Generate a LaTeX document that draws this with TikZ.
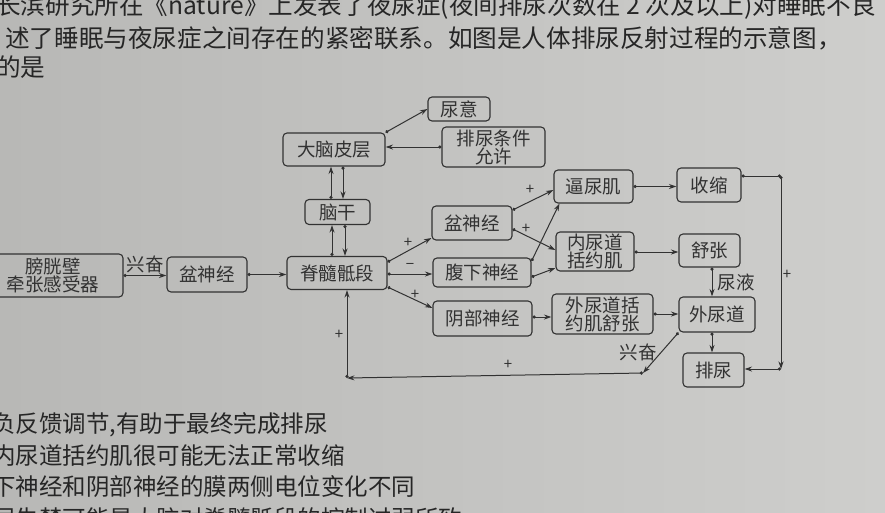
\documentclass[tikz,border=0pt]{standalone}
\usepackage{fontspec}
\setmainfont{Noto Sans CJK SC}
\usetikzlibrary{arrows.meta}
\definecolor{paperL}{RGB}{184,184,182}
\definecolor{paperR}{RGB}{206,206,204}
\definecolor{ink}{RGB}{50,50,50}
\definecolor{txtc}{RGB}{38,38,38}
\begin{document}
\begin{tikzpicture}[x=1pt,y=-1pt,
  box/.style={draw=ink, rounded corners=4pt, line width=1.1pt, inner sep=0pt, align=center,
    font=\fontsize{18.5}{20}\selectfont, text=ink},
  arr/.style={draw=ink, line width=1pt, {Circle[length=3.2pt]}-{Stealth[length=7.5pt,width=5pt]}},
  ln/.style={draw=ink, line width=1pt, {Circle[length=3.2pt]}-{Circle[length=3.2pt]}},
  lab/.style={font=\fontsize{18.5}{20}\selectfont, text=ink, inner sep=0pt},
  pl/.style={font=\fontsize{15}{15}\selectfont, text=ink, inner sep=0pt},
  para/.style={font=\fontsize{24.6}{26}\selectfont, text=txtc, inner sep=0pt, anchor=west},
  opt/.style={font=\fontsize{23.5}{26}\selectfont, text=txtc, inner sep=0pt, anchor=west}]
\useasboundingbox (0,0) rectangle (885,512);
\clip (0,0) rectangle (885,512);
\fill[left color=paperL, right color=paperR] (0,0) rectangle (885,512);

% surrounding text
\node[para] (t1) at (-4,6) {长滨研究所在《nature》上发表了夜尿症(夜间排尿次数在 2 次及以上)对睡眠不良};
\node[para] (t2) at (5,38) {述了睡眠与夜尿症之间存在的紧密联系。如图是人体排尿反射过程的示意图，};
\node[para] (t3) at (-4,67) {的是};
\node[opt] (o1) at (-8,425) {负反馈调节,有助于最终完成排尿};
\node[opt] (o2) at (-8,456) {内尿道括约肌很可能无法正常收缩};
\node[opt] (o3) at (-8,487) {下神经和阴部神经的膜两侧电位变化不同};
\node[opt] (o4) at (-8,519) {尿失禁可能是大脑对脊髓骶段的控制过弱所致};

% boxes
\node[box, minimum width=62pt, minimum height=24pt] (yy) at (459,109) {尿意};
\node[box, minimum width=102pt, minimum height=33pt] (dn) at (334,149.5) {大脑皮层};
\node[box, minimum width=103pt, minimum height=40pt] (tj) at (493.5,147) {排尿条件\\[-2pt]允许};
\node[box, minimum width=65pt, minimum height=25pt] (ng) at (337.5,212) {脑干};
\node[box, minimum width=140pt, minimum height=43pt] (pg) at (53,275.5) {膀胱壁\\[-2pt]牵张感受器};
\node[box, minimum width=80pt, minimum height=35pt] (pn1) at (207,274.5) {盆神经};
\node[box, minimum width=100pt, minimum height=33pt] (js) at (337,273) {脊髓骶段};
\node[box, minimum width=80pt, minimum height=34pt] (pn2) at (472,223) {盆神经};
\node[box, minimum width=98pt, minimum height=29pt] (fx) at (482,272.5) {腹下神经};
\node[box, minimum width=99pt, minimum height=35pt] (yb) at (482.5,318.5) {阴部神经};
\node[box, minimum width=79pt, minimum height=33pt] (bn) at (593.5,186.5) {逼尿肌};
\node[box, minimum width=64pt, minimum height=34pt] (ss) at (709,185) {收缩};
\node[box, minimum width=78pt, minimum height=39pt] (nd) at (595,251.5) {内尿道\\[-2pt]括约肌};
\node[box, minimum width=61pt, minimum height=33pt] (sz) at (709.5,250.5) {舒张};
\node[box, minimum width=101pt, minimum height=40pt] (wk) at (602.5,314) {外尿道括\\[-2pt]约肌舒张};
\node[box, minimum width=76pt, minimum height=35pt] (wnd) at (717,314.5) {外尿道};
\node[box, minimum width=61pt, minimum height=34pt] (pn) at (713.5,370) {排尿};

% helper points
\coordinate (c1) at (781,176);
\coordinate (c2) at (781,369);
\coordinate (c3) at (643,373);
\coordinate (c4) at (347,378);

% connectors
\draw[arr] (pg.east) -- (pn1.west |- pg.east);
\node[lab] (l1) at (145,264) {兴奋};
\draw[arr] (pn1.east) -- (js.west |- pn1.east);

\draw[arr] (js.north -| 332,0) -- (ng.south -| 332,0);
\draw[arr] (ng.south -| 345,0) -- (js.north -| 345,0);
\draw[arr] (ng.north -| 331,0) -- (dn.south -| 331,0);
\draw[arr] (dn.south -| 343,0) -- (ng.north -| 343,0);

\draw[arr] (dn.north east) -- (yy.west);
\draw[arr] (tj.west) -- (dn.east |- tj.west);

\draw[arr] (js.east |- 0,262) -- (pn2.west |- 0,238);
\node[pl] (p1) at (408,243) {+};
\draw[arr] (js.east |- 0,274) -- (fx.west |- 0,274);
\node[pl] (p2) at (410,266) {−};
\draw[arr] (js.east |- 0,287) -- (yb.west |- 0,308);
\node[pl] (p3) at (415,295) {+};

\draw[arr] (pn2.east |- 0,210) -- (bn.west |- 0,190);
\node[pl] (p4) at (530,190) {+};
\draw[arr] (pn2.east |- 0,229) -- (nd.west |- 0,250);
\node[pl] (p5) at (526,229) {+};
\draw[arr] (fx.east |- 0,261) -- ([xshift=6pt]bn.south west);
\draw[arr] (fx.east |- 0,277) -- (nd.west |- 0,268);
\draw[arr] (yb.east |- 0,317) -- (wk.west |- 0,317);

\draw[arr] (bn.east) -- (ss.west |- bn.east);
\draw[arr] (nd.east |- 0,252) -- (sz.west |- 0,252);
\draw[arr] (wk.east) -- (wnd.west |- wk.east);
\draw[arr] (sz.south -| 712,0) -- (wnd.north -| 712,0);
\node[lab] (l2) at (736,282) {尿液};
\draw[arr] (wnd.south -| 712,0) -- (pn.north -| 712,0);

\draw[ln] (ss.east |- c1) -- (c1);
\draw[arr] (c1) -- (c2);
\draw[arr] (c2) -- (pn.east |- c2);
\node[pl] (p6) at (787,275) {+};

\draw[arr] (wnd.south west) -- (c3);
\node[lab] (l3) at (638,352) {兴奋};
\draw[arr] (c3) -- (c4);
\node[pl] (p7) at (508,365) {+};
\draw[arr] (c4) -- (js.south -| c4);
\node[pl] (p8) at (339,335) {+};
\end{tikzpicture}
\end{document}
